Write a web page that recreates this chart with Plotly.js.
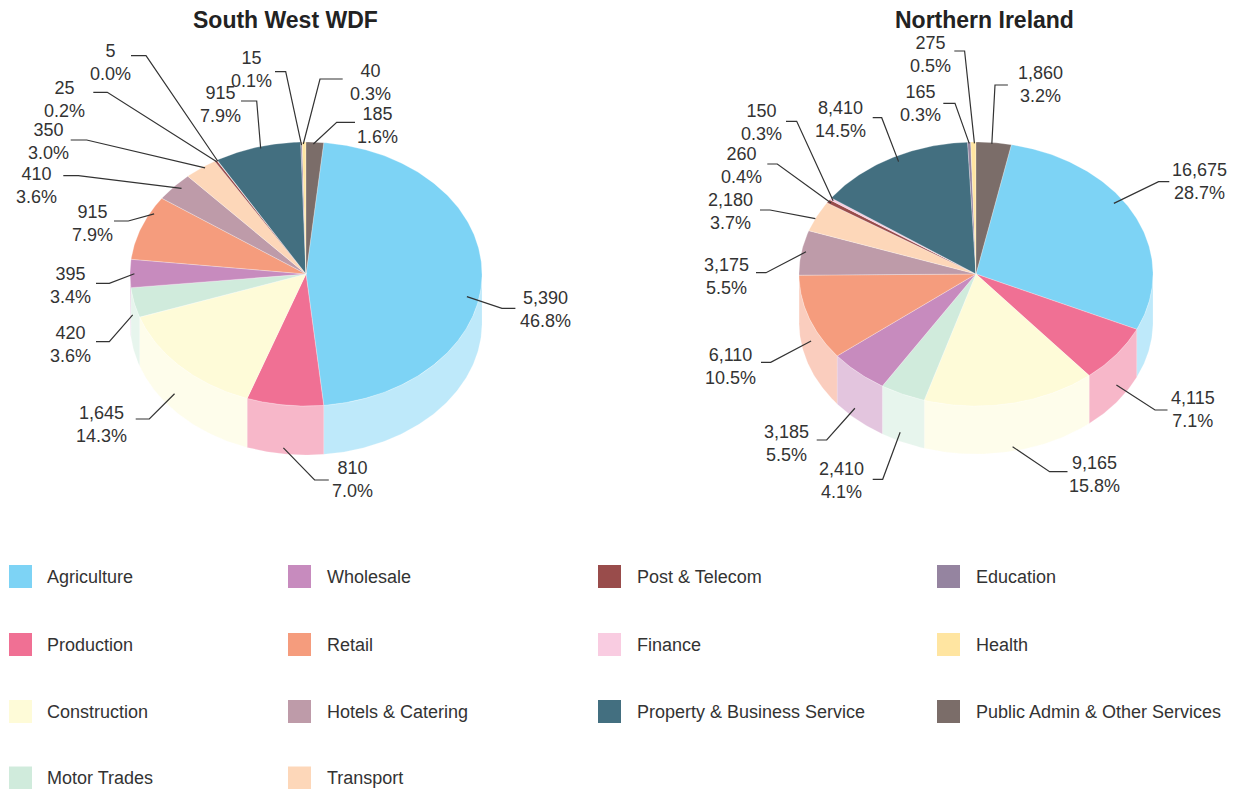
<!DOCTYPE html>
<html>
<head>
<meta charset="utf-8">
<script src="https://cdn.plot.ly/plotly-3.0.1.min.js"></script>
<style>
html,body{margin:0;padding:0;background:#ffffff;}
#chart{width:1238px;height:789px;}
</style>
</head>
<body>
<div id="chart"></div>
<script>
// ---------------- DATA ----------------
const categories = ["Agriculture","Production","Construction","Motor Trades","Wholesale","Retail",
  "Hotels & Catering","Transport","Post & Telecom","Finance","Property & Business Service",
  "Education","Health","Public Admin & Other Services"];
const southWestValues = [5390, 810, 1645, 420, 395, 915, 410, 350, 25, 5, 915, 15, 40, 185];
const northernIrelandValues = [16675, 4115, 9165, 2410, 3185, 6110, 3175, 2180, 260, 150, 8410, 165, 275, 1860];
const chartTitles = ["South West WDF", "Northern Ireland"];

// ---------------- STYLE ----------------
const colors = ["#7DD3F5","#F07094","#FEFBD8","#D0EBDC","#C78BBE","#F59C7D",
  "#BE9BA9","#FDD7B9","#994C4B","#F9CCE1","#436F80","#9584A0","#FFE5A1","#7B6D69"];
const FONT = "Liberation Sans, Arial, sans-serif";
const TXT = "#333333";
const W = 1238, H = 789;

// label placement (layout only): t = position along slice, f = radial fraction,
// dz = depth offset on the side wall, lx/ly = label block centre, sx/ex/hy = horizontal leader
const swLabelLayout = [
  {t:.563,f:.93,dz:0,  lx:545.4,ly:309.6,sx:515.4,ex:502,  hy:308.3},
  {t:.52, f:1,  dz:43, lx:352,  ly:479.6,sx:328.8,ex:314.6,hy:480},
  {t:.56, f:1,  dz:32, lx:101.7,ly:424.6,sx:135.7,ex:149.3,hy:419},
  {t:.69, f:1,  dz:18, lx:70,   ly:344.6,sx:96,   ex:109.3,hy:341.7},
  {t:.49, f:.975,dz:0, lx:70,   ly:285.3,sx:96,   ex:109.3,hy:283.3},
  {t:.75, f:.976,dz:0, lx:92.7, ly:223,  sx:114,  ex:128.3,hy:221},
  {t:.59, f:.96,dz:0,  lx:36,   ly:185.3,sx:63.3, ex:78.3, hy:175.7},
  {t:.61, f:.987,dz:0, lx:48.3, ly:141.3,sx:70.7, ex:86.7, hy:140},
  {t:.58, f:.99,dz:0,  lx:64.3, ly:99,   sx:93.3, ex:107.3,hy:92.3},
  {t:.5,  f:.99,dz:0,  lx:110.7,ly:62,   sx:131,  ex:146,  hy:55.7},
  {t:.53, f:.985,dz:0, lx:220,  ly:104.6,sx:241,  ex:256.7,hy:101},
  {t:.5,  f:.977,dz:0, lx:251,  ly:69.6, sx:275,  ex:285.7,hy:71.7},
  {t:.28, f:.985,dz:0, lx:370.7,ly:82,   sx:342.7,ex:320,  hy:79},
  {t:.42, f:.986,dz:0, lx:377.7,ly:125.3,sx:355,  ex:336.7,hy:122.3}
];
const niLabelLayout = [
  {t:.426,f:.945,dz:0, lx:1199.6,ly:181.3,sx:1169.3,ex:1158.6,hy:181.7},
  {t:.5,  f:1,  dz:30.6,lx:1192.5,ly:409.6,sx:1167.5,ex:1155, hy:410},
  {t:.49, f:1,  dz:43.6,lx:1094.3,ly:474.6,sx:1067.5,ex:1049.6,hy:471.7},
  {t:.56, f:1,  dz:39, lx:841.7, ly:480,  sx:872.7, ex:882.7, hy:479.3},
  {t:.57, f:1,  dz:38, lx:786.7, ly:443,  sx:816.7, ex:826.7, hy:440},
  {t:.45, f:1,  dz:19, lx:730,   ly:366.3,sx:761,   ex:770.7, hy:362.3},
  {t:.53, f:.975,dz:0, lx:726,   ly:276.3,sx:756,   ex:766,   hy:272.7},
  {t:.42, f:1,  dz:0,  lx:730,   ly:211,  sx:760,   ex:770,   hy:210},
  {t:.4,  f:.98,dz:0,  lx:741.7, ly:165.5,sx:767.3, ex:777.3, hy:164},
  {t:.3,  f:.98,dz:0,  lx:761,   ly:122.6,sx:786,   ex:796.7, hy:121.3},
  {t:.53, f:.957,dz:0, lx:840,   ly:119,  sx:872.7, ex:881.7, hy:117.7},
  {t:.5,  f:.99,dz:0,  lx:920.7, ly:103.6,sx:943.3, ex:955,   hy:103.3},
  {t:.7,  f:.99,dz:0,  lx:930,   ly:54.6, sx:954.3, ex:964.6, hy:51},
  {t:.45, f:.99,dz:0,  lx:1040,  ly:84.6, sx:1007.9,ex:995,   hy:85}
];

const pies = [
  {values: southWestValues, title: chartTitles[0], cx:306, cy:274, rx:176, ry:132, depth:49,
   titleX:285, titleY:20, labels: swLabelLayout},
  {values: northernIrelandValues, title: chartTitles[1], cx:976, cy:274, rx:177, ry:132, depth:48,
   titleX:984, titleY:20, labels: niLabelLayout}
];

// ---------------- GEOMETRY HELPERS ----------------
function rad(d){ return d*Math.PI/180; }
function ptOn(p, deg, f, dz){
  const a = rad(deg);
  return [p.cx + f*p.rx*Math.sin(a), p.cy - f*p.ry*Math.cos(a) + (dz||0)];
}
function arc(p, d0, d1, f, dz){
  const n = Math.max(2, Math.ceil(Math.abs(d1-d0)/0.75) + 1);
  const pts = [];
  for (let k=0;k<n;k++){ pts.push(ptOn(p, d0 + (d1-d0)*k/(n-1), f, dz)); }
  return pts;
}
function rgba(hex, a){
  const n = parseInt(hex.slice(1),16);
  return "rgba(" + ((n>>16)&255) + "," + ((n>>8)&255) + "," + (n&255) + "," + a + ")";
}
function fmt(v){ return v.toLocaleString("en-US"); }
function pushPoly(X, Y, pts){
  if (X.length){ X.push(null); Y.push(null); }
  pts.forEach(q => { X.push(q[0]); Y.push(q[1]); });
}

// ---------------- BUILD ----------------
const topX = categories.map(()=>[]), topY = categories.map(()=>[]);
const sideX = categories.map(()=>[]), sideY = categories.map(()=>[]);
const leadX = [], leadY = [];
const annotations = [];
const shapes = [];

pies.forEach(p => {
  const total = p.values.reduce((s,v)=>s+v,0);
  // the last slice (Public Admin) begins at 12 o'clock, slices run clockwise
  let a = p.values[p.values.length-1]/total*360;
  p.values.forEach((v,i) => {
    const span = v/total*360, a0 = a, a1 = a + span;
    a = a1;
    // top face
    pushPoly(topX[i], topY[i], [[p.cx,p.cy]].concat(arc(p,a0,a1,1,0), [[p.cx,p.cy]]));
    // visible side wall (front half)
    const b0 = Math.max(a0, 90), b1 = Math.min(a1, 270);
    if (b1 > b0){
      const up = arc(p,b0,b1,1,0), low = arc(p,b1,b0,1,p.depth);
      pushPoly(sideX[i], sideY[i], up.concat(low, [up[0]]));
    }
    // label + leader line
    const L = p.labels[i];
    const anc = ptOn(p, a0 + L.t*span, L.f, L.dz);
    leadX.push(L.sx, L.ex, anc[0], null);
    leadY.push(L.hy, L.hy, anc[1], null);
    annotations.push({x:L.lx, y:L.ly, xref:"x", yref:"y", xanchor:"center", yanchor:"middle",
      showarrow:false, align:"center", text: fmt(v) + "<br>" + (v/total*100).toFixed(1) + "%",
      font:{family:FONT, size:18, color:TXT}});
  });
  annotations.push({x:p.titleX, y:p.titleY, xref:"x", yref:"y", xanchor:"center", yanchor:"middle",
    showarrow:false, text:"<b>"+p.title+"</b>", font:{family:FONT, size:23, color:"#222222"}});
});

const traces = [];
categories.forEach((c,i) => {
  traces.push({type:"scatter", mode:"lines", x:sideX[i], y:sideY[i], fill:"toself",
    fillcolor: rgba(colors[i],0.5), line:{width:0.5,color:"rgba(255,255,255,0.35)"},
    hoverinfo:"skip", showlegend:false});
});
categories.forEach((c,i) => {
  traces.push({type:"scatter", mode:"lines", x:topX[i], y:topY[i], fill:"toself", name:c,
    fillcolor: colors[i], line:{width:0.6,color:"rgba(255,255,255,0.45)"},
    hoveron:"fills", hoverinfo:"name", showlegend:false});
});
traces.push({type:"scatter", mode:"lines", x:leadX, y:leadY, line:{color:"#333333", width:1.2},
  hoverinfo:"skip", showlegend:false});

// ---------------- LEGEND (4 columns, column-major) ----------------
const legSquareX = [9, 288, 598, 937];
const legTextX = [45, 325, 635, 974];
const legRowY = [576.5, 644.5, 711.5, 778];
categories.forEach((c,i) => {
  const col = i < 8 ? Math.floor(i/4) : 2 + Math.floor((i-8)/3);
  const row = i < 8 ? i%4 : (i-8)%3;
  const yc = legRowY[row];
  shapes.push({type:"rect", xref:"x", yref:"y", x0:legSquareX[col], x1:legSquareX[col]+23,
    y0:yc-11.5, y1:yc+11.5, fillcolor:colors[i], line:{width:0}});
  annotations.push({x:legTextX[col], y:yc, xref:"x", yref:"y", xanchor:"left", yanchor:"middle",
    showarrow:false, text:c, font:{family:FONT, size:18, color:TXT}});
});

const layout = {
  width:W, height:H, margin:{l:0,r:0,t:0,b:0},
  paper_bgcolor:"#ffffff", plot_bgcolor:"#ffffff",
  xaxis:{range:[0,W], visible:false, fixedrange:true},
  yaxis:{range:[H,0], visible:false, fixedrange:true},
  showlegend:false, shapes:shapes, annotations:annotations, hovermode:"closest"
};
Plotly.newPlot("chart", traces, layout, {displayModeBar:false});
</script>
</body>
</html>
